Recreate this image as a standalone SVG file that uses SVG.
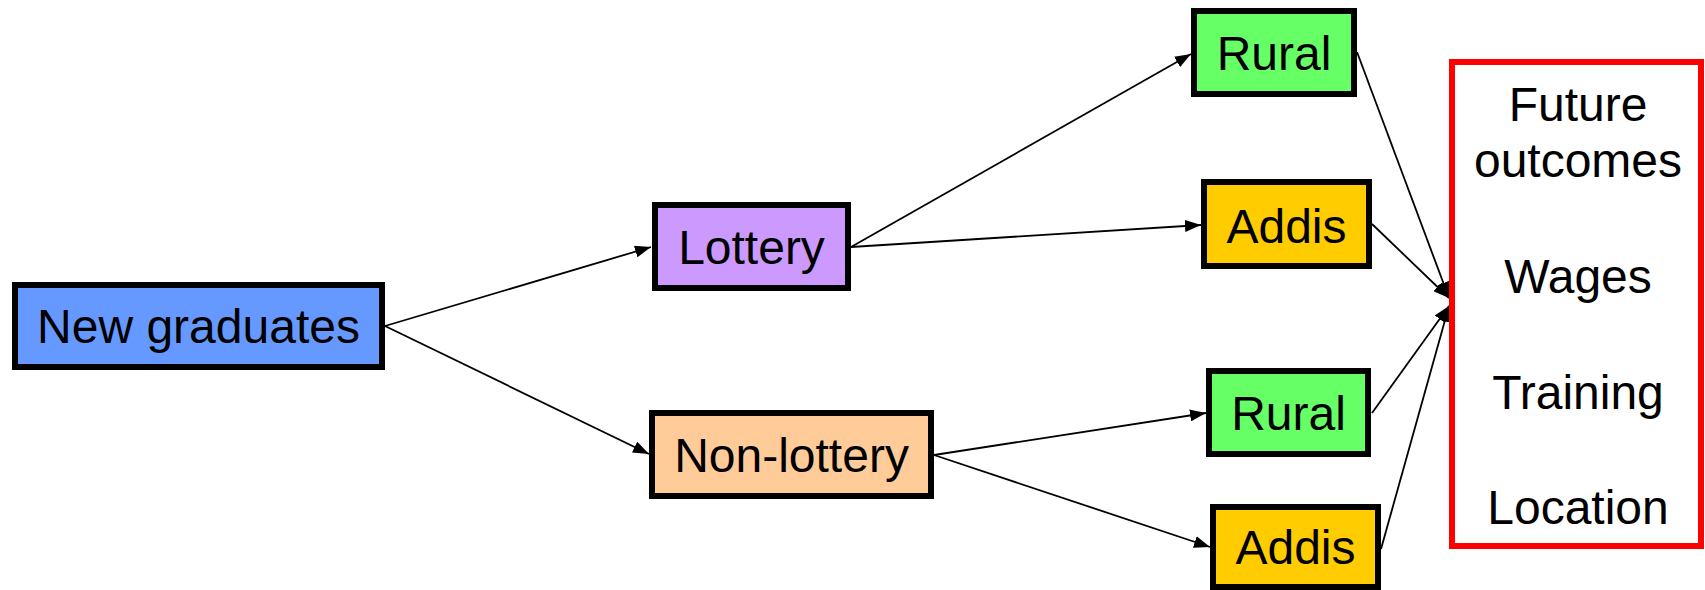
<svg xmlns="http://www.w3.org/2000/svg" width="1705" height="590" viewBox="0 0 1705 590">
  <style>
    .box { stroke: #000; stroke-width: 6; }
    .lbl { font-family: "Liberation Sans", Arial, sans-serif; font-size: 48px; fill: #000; text-anchor: middle; }
    .edge { stroke: #000; stroke-width: 1.8; fill: none; marker-end: url(#arrow); }
  </style>
  <defs>
    <marker id="arrow" markerUnits="userSpaceOnUse" markerWidth="16" markerHeight="12" refX="16" refY="6" orient="auto">
      <path d="M0,0 L16,6 L0,12 z" fill="#000"/>
    </marker>
  </defs>
  <rect width="1705" height="590" fill="#fff"/>

  <g id="connectors">
    <line class="edge" x1="385" y1="326" x2="651" y2="247"/>
    <line class="edge" x1="385" y1="326" x2="649" y2="454"/>
    <line class="edge" x1="851" y1="247" x2="1191" y2="54"/>
    <line class="edge" x1="851" y1="247" x2="1201" y2="225"/>
    <line class="edge" x1="934" y1="455" x2="1206" y2="413"/>
    <line class="edge" x1="934" y1="455" x2="1210" y2="547"/>
    <line class="edge" x1="1357" y1="52" x2="1449" y2="298"/>
    <line class="edge" x1="1372" y1="224" x2="1449" y2="298"/>
    <line class="edge" x1="1372" y1="413" x2="1449" y2="306"/>
    <line class="edge" x1="1381" y1="549" x2="1449" y2="306"/>
  </g>

  <g id="new-graduates">
    <rect class="box" x="15" y="285" width="367" height="82" fill="#6699FF"/>
    <text class="lbl" x="198.5" y="343">New graduates</text>
  </g>
  <g id="lottery">
    <rect class="box" x="655" y="205" width="193" height="83" fill="#CC99FF"/>
    <text class="lbl" x="751.5" y="264">Lottery</text>
  </g>
  <g id="non-lottery">
    <rect class="box" x="652" y="413" width="279" height="83" fill="#FFCC99"/>
    <text class="lbl" x="791.5" y="472">Non-lottery</text>
  </g>
  <g id="rural-lottery">
    <rect class="box" x="1194" y="11" width="160" height="83" fill="#66FF66"/>
    <text class="lbl" x="1274" y="70">Rural</text>
  </g>
  <g id="addis-lottery">
    <rect class="box" x="1204" y="182" width="165" height="84" fill="#FFCC00"/>
    <text class="lbl" x="1286.5" y="243">Addis</text>
  </g>
  <g id="rural-non-lottery">
    <rect class="box" x="1209" y="371" width="159" height="83" fill="#66FF66"/>
    <text class="lbl" x="1288.5" y="430">Rural</text>
  </g>
  <g id="addis-non-lottery">
    <rect class="box" x="1213" y="507" width="165" height="80" fill="#FFCC00"/>
    <text class="lbl" x="1295.5" y="564">Addis</text>
  </g>
  <g id="outcomes">
    <rect x="1452" y="62" width="249" height="484" fill="#fff" stroke="#FF0000" stroke-width="6"/>
    <text class="lbl" x="1578" y="121">Future</text>
    <text class="lbl" x="1578" y="177">outcomes</text>
    <text class="lbl" x="1578" y="293">Wages</text>
    <text class="lbl" x="1578" y="409">Training</text>
    <text class="lbl" x="1578" y="524">Location</text>
  </g>
</svg>
